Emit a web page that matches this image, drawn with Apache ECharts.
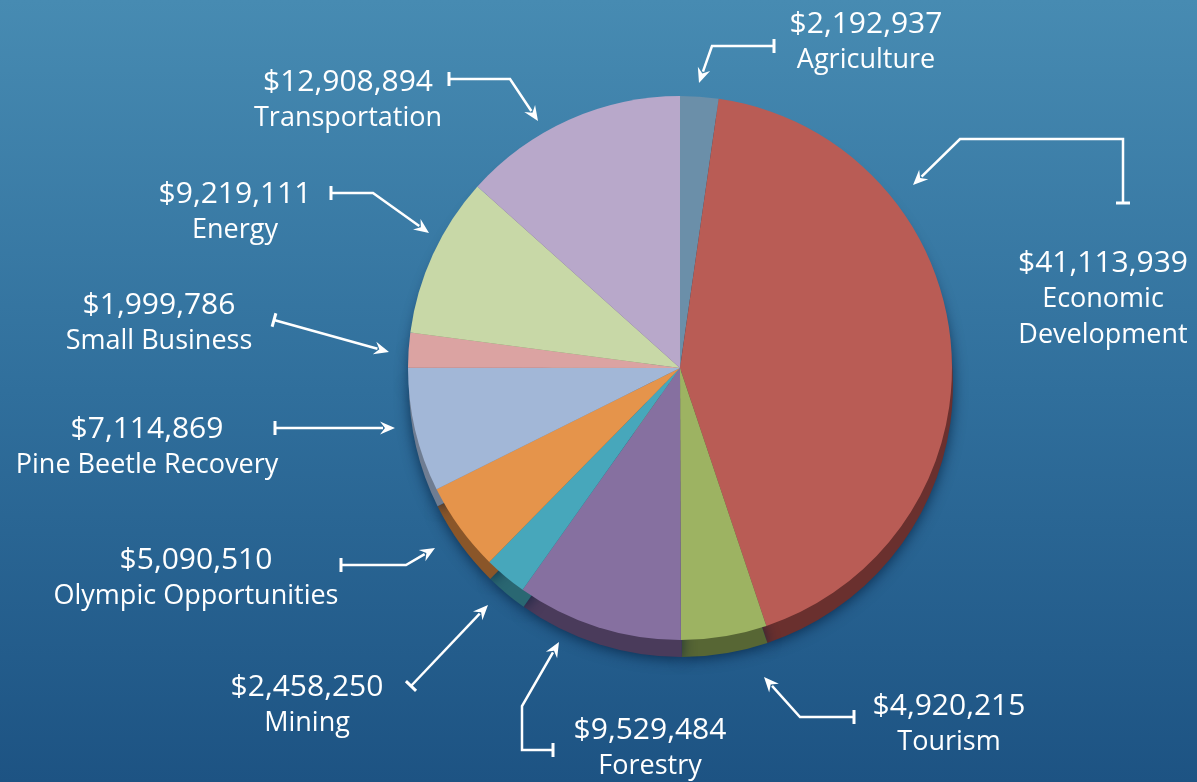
<!DOCTYPE html>
<html>
<head>
<meta charset="utf-8">
<script src="https://cdn.jsdelivr.net/npm/echarts@6/dist/echarts.min.js"></script>
<style>
html, body { margin: 0; padding: 0; }
#charts { width: 1197px; height: 782px; }
</style>
</head>
<body>
<div id="charts"></div>
<script>
// data, clockwise from the top
var categories = ["Agriculture", "Economic Development", "Tourism", "Forestry", "Mining",
	"Olympic Opportunities", "Pine Beetle Recovery", "Small Business", "Energy", "Transportation"];
var amounts = [2192937, 41113939, 4920215, 9529484, 2458250, 5090510, 7114869, 1999786, 9219111, 12908894];

var sliceColors = ["#6b8fa9", "#b95c55", "#9db362", "#8670a0", "#47a7bb",
	"#e5944b", "#a2b7d7", "#dba3a2", "#c8d8a7", "#b8a8ca"];
var rimColors = ["#3f5566", "#6a302e", "#576634", "#4a3b5b", "#2a6772",
	"#8a5629", "#6f7d92", "#8a6060", "#7c8a62", "#6e6480"];

// label block: centre x, centre y of the amount line
var labelPos = [[866, 24], [1103, 263], [949, 706], [650, 730], [307, 687],
	[196, 560], [147, 429], [159, 305], [235, 194], [348, 82]];

// callouts: first point gets the T bar, last point the arrow head
var leaders = [
	[[774, 46], [712, 46], [699, 83]],
	[[1123, 203], [1123, 139], [960, 139], [913, 185]],
	[[854, 717], [800, 717], [764, 677]],
	[[553, 750], [522, 750], [522, 706], [559, 642]],
	[[411, 686], [488, 605]],
	[[341, 565], [406, 565], [435, 548]],
	[[275, 428], [395, 428]],
	[[274, 320], [389, 352]],
	[[331, 193], [373, 193], [429, 233]],
	[[449, 79], [510, 79], [538, 121]]
];

function money(v) {
	return "$" + v.toLocaleString("en-US");
}

function leaderGraphics() {
	var out = [];
	leaders.forEach(function (pts) {
		var n = pts.length;
		var tip = pts[n - 1], prev = pts[n - 2];
		var dx = tip[0] - prev[0], dy = tip[1] - prev[1];
		var len = Math.sqrt(dx * dx + dy * dy);
		var ux = dx / len, uy = dy / len;
		var al = 15, aw = 6.5;
		var base = [tip[0] - ux * al, tip[1] - uy * al];
		var line = pts.slice(0, n - 1).concat([[tip[0] - ux * (al - 3), tip[1] - uy * (al - 3)]]);
		out.push({
			type: "polyline",
			shape: { points: line },
			style: { stroke: "#ffffff", lineWidth: 2.5, fill: null }
		});
		out.push({
			type: "polygon",
			shape: { points: [tip, [base[0] - uy * aw, base[1] + ux * aw], [tip[0] - ux * (al - 5), tip[1] - uy * (al - 5)], [base[0] + uy * aw, base[1] - ux * aw]] },
			style: { fill: "#ffffff" }
		});
		// T bar at the label end
		var s = pts[0], s2 = pts[1];
		var ex = s2[0] - s[0], ey = s2[1] - s[1];
		var el = Math.sqrt(ex * ex + ey * ey);
		var px = -ey / el * 7, py = ex / el * 7;
		out.push({
			type: "line",
			shape: { x1: s[0] + px, y1: s[1] + py, x2: s[0] - px, y2: s[1] - py },
			style: { stroke: "#ffffff", lineWidth: 3 }
		});
	});
	return out;
}

var chart = echarts.init(document.getElementById("charts"));

var pieData = categories.map(function (c, i) {
	return { name: c, value: amounts[i], itemStyle: { color: sliceColors[i] } };
});
var rimData = categories.map(function (c, i) {
	return { name: c, value: amounts[i], itemStyle: { color: rimColors[i] } };
});

var option = {
	backgroundColor: {
		type: "linear", x: 0, y: 0, x2: 0, y2: 1,
		colorStops: [
			{ offset: 0, color: "#478bb2" },
			{ offset: 0.5, color: "#306f9c" },
			{ offset: 1, color: "#1d5383" }
		]
	},
	animation: false,
	graphic: { elements: leaderGraphics() },
	series: [{
		// depth of the pie
		type: "pie",
		silent: true,
		z: 1,
		center: [681, 385],
		radius: 272,
		startAngle: 90,
		clockwise: true,
		label: { show: false },
		labelLine: { show: false },
		itemStyle: {
			shadowBlur: 14,
			shadowColor: "rgba(0, 25, 55, 0.7)",
			shadowOffsetY: 2
		},
		data: rimData
	}, {
		type: "pie",
		z: 2,
		center: [680, 368],
		radius: 272,
		startAngle: 90,
		clockwise: true,
		avoidLabelOverlap: false,
		itemStyle: { borderWidth: 0 },
		label: {
			show: true,
			position: "outside",
			color: "#ffffff",
			fontFamily: "Open Sans",
			formatter: function (p) {
				var nm = p.name == "Economic Development" ? "Economic\nDevelopment" : p.name;
				return "{v|" + money(p.value) + "}\n" + nm.split("\n").map(function (t) {
					return "{n|" + t + "}";
				}).join("\n");
			},
			rich: {
				v: { fontSize: 30, lineHeight: 36, color: "#ffffff", fontFamily: "Open Sans" },
				n: { fontSize: 27, lineHeight: 36, color: "#ffffff", fontFamily: "Open Sans" }
			}
		},
		labelLine: { show: false },
		labelLayout: function (params) {
			var p = labelPos[params.dataIndex];
			return { x: p[0], y: p[1] - 18, align: "center", verticalAlign: "top" };
		},
		data: pieData
	}]
};

chart.setOption(option);
</script>
</body>
</html>
